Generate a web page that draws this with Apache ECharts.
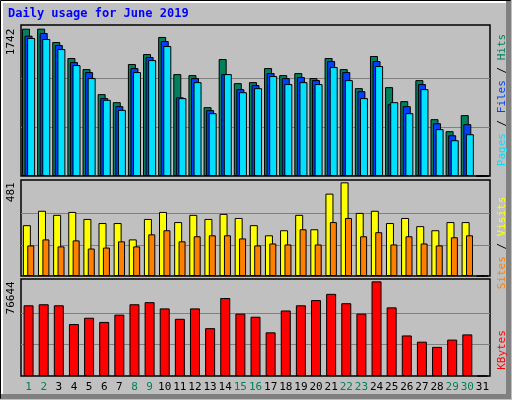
<!DOCTYPE html>
<html>
<head>
<meta charset="utf-8">
<script src="https://cdn.jsdelivr.net/npm/echarts@6/dist/echarts.min.js"></script>
<style>
  html, body { margin: 0; padding: 0; background: #c0c0c0; }
  #chart { width: 512px; height: 400px; }
</style>
</head>
<body>
<div id="chart"></div>
<script>
// Daily usage for June 2019 (webalizer style)
const days = ['1','2','3','4','5','6','7','8','9','10','11','12','13','14','15','16','17','18','19','20','21','22','23','24','25','26','27','28','29','30','31']
const weekend = ['1','2','8','9','15','16','22','23','29','30']

const hits  = [1742,1742,1584,1395,1264,968,873,1324,1442,1644,1205,1193,814,1383,1098,1110,1276,1193,1217,1158,1395,1264,1039,1419,1051,885,1134,672,530,720,0]
const files = [1659,1691,1549,1347,1229,921,826,1276,1407,1596,930,1158,779,1205,1027,1075,1217,1158,1170,1134,1359,1229,1003,1359,850,826,1087,624,482,613,0]
const pages = [1632,1620,1501,1312,1158,901,782,1229,1371,1537,921,1110,743,1205,991,1039,1182,1087,1110,1087,1288,1134,921,1300,873,743,1027,554,423,494,0]

const visits = [261,335,314,329,293,272,272,188,293,329,277,314,293,319,298,261,209,235,314,240,423,481,324,335,272,298,256,235,277,277,0]
const sites  = [157,188,152,183,141,146,178,152,214,235,178,204,209,209,193,157,167,162,240,162,277,298,204,225,162,204,167,157,199,209,0]

const kbytes = [57272,58114,57272,42112,47166,43797,49692,58114,59799,54746,46323,54746,38743,63168,50534,48008,35374,53062,57272,61484,66537,58957,50534,76644,55588,32847,27794,23583,29479,33690,0]

const maxLabels = [1742, 481, 76644]

const mono = 'DejaVu Sans Mono'
const chart = echarts.init(document.getElementById('chart'))

const grids = [
  {left: 21, width: 469, top: 25, height: 151},
  {left: 21, width: 469, top: 180, height: 96},
  {left: 21, width: 469, top: 279, height: 97}
].map(g => Object.assign(g, {show: true, borderColor: '#000', borderWidth: 1.5, backgroundColor: '#c0c0c0'}))

const xAxes = [0, 1, 2].map(i => ({
  type: 'category', gridIndex: i, data: days,
  axisLine: {show: false}, axisTick: {show: false},
  axisLabel: i < 2 ? {show: false} : {
    show: true, interval: 0, margin: 6, fontFamily: mono, fontSize: 11,
    formatter: v => weekend.includes(v) ? '{w|' + v + '}' : '{n|' + v + '}',
    rich: {w: {color: '#00805c', fontFamily: mono, fontSize: 11}, n: {color: '#000', fontFamily: mono, fontSize: 11}}
  }
}))

// gridlines at 1/3 and 2/3 of the max; the 0 and max lines are hidden
const yAxes = maxLabels.map((m, i) => ({
  type: 'value', gridIndex: i, min: 0, max: m * 1.025, interval: m / 3,
  splitLine: {show: true, lineStyle: {color: ['rgba(0,0,0,0)', '#808080', '#808080', 'rgba(0,0,0,0)'], width: 1}},
  axisLine: {show: false}, axisTick: {show: false},
  axisLabel: {
    show: true, rotate: 90, align: 'right', margin: 4, fontFamily: mono, fontSize: 11, color: '#000',
    formatter: v => Math.abs(v - m) < 1e-6 * m ? String(m) : ''
  }
}))

const edge = {borderColor: '#000', borderWidth: 1}

chart.setOption({
  animation: false,
  backgroundColor: '#c0c0c0',
  grid: grids,
  xAxis: xAxes,
  yAxis: yAxes,
  graphic: [
    {type: 'rect', shape: {x: 0.5, y: 0.5, width: 510, height: 398}, style: {fill: 'none', stroke: '#000', lineWidth: 1}, z: 0},
    {type: 'rect', shape: {x: 506, y: 1, width: 5, height: 398}, style: {fill: '#808080'}, z: 0},
    {type: 'rect', shape: {x: 1, y: 394, width: 510, height: 5}, style: {fill: '#808080'}, z: 0},
    {type: 'rect', shape: {x: 1, y: 1, width: 505, height: 2}, style: {fill: '#fff'}, z: 0},
    {type: 'rect', shape: {x: 1, y: 1, width: 2, height: 393}, style: {fill: '#fff'}, z: 0},
    {type: 'text', left: 8, top: 8, style: {text: 'Daily usage for June 2019', fill: '#0000ff', font: 'bold 12px "DejaVu Sans Mono"'}},
    {type: 'text', x: 502, y: 100, rotation: Math.PI / 2, style: {
      text: '{p|Pages} / {f|Files} / {h|Hits}', align: 'center', verticalAlign: 'middle',
      font: '11px "DejaVu Sans Mono"', fill: '#000',
      rich: {p: {fill: '#00e0ff', font: '11px "DejaVu Sans Mono"'}, f: {fill: '#0040ff', font: '11px "DejaVu Sans Mono"'}, h: {fill: '#00805c', font: '11px "DejaVu Sans Mono"'}}
    }},
    {type: 'text', x: 502, y: 243, rotation: Math.PI / 2, style: {
      text: '{s|Sites} / {v|Visits}', align: 'center', verticalAlign: 'middle',
      font: '11px "DejaVu Sans Mono"', fill: '#000',
      rich: {s: {fill: '#ff8000', font: '11px "DejaVu Sans Mono"'}, v: {fill: '#ffff00', font: '11px "DejaVu Sans Mono"'}}
    }},
    {type: 'text', x: 502, y: 350, rotation: Math.PI / 2, style: {
      text: 'KBytes', align: 'center', verticalAlign: 'middle', fill: '#ff0000', font: '11px "DejaVu Sans Mono"'
    }}
  ],
  series: [
    {type: 'bar', name: 'Hits', xAxisIndex: 0, yAxisIndex: 0, data: hits, barWidth: 8, barGap: '-68%',
      itemStyle: Object.assign({color: '#00805c'}, edge), z: 2},
    {type: 'bar', name: 'Files', xAxisIndex: 0, yAxisIndex: 0, data: files, barWidth: 8, barGap: '-68%',
      itemStyle: Object.assign({color: '#0040ff'}, edge), z: 3},
    {type: 'bar', name: 'Pages', xAxisIndex: 0, yAxisIndex: 0, data: pages, barWidth: 8, barGap: '-68%',
      itemStyle: Object.assign({color: '#00e0ff'}, edge), z: 4},
    {type: 'bar', name: 'Visits', xAxisIndex: 1, yAxisIndex: 1, data: visits, barWidth: 8, barGap: '-50%',
      itemStyle: Object.assign({color: '#ffff00'}, edge), z: 2},
    {type: 'bar', name: 'Sites', xAxisIndex: 1, yAxisIndex: 1, data: sites, barWidth: 7, barGap: '-45%',
      itemStyle: Object.assign({color: '#ff8000'}, edge), z: 3},
    {type: 'bar', name: 'KBytes', xAxisIndex: 2, yAxisIndex: 2, data: kbytes, barWidth: 10,
      itemStyle: Object.assign({color: '#ff0000'}, edge), z: 2}
  ]
})
</script>
</body>
</html>
